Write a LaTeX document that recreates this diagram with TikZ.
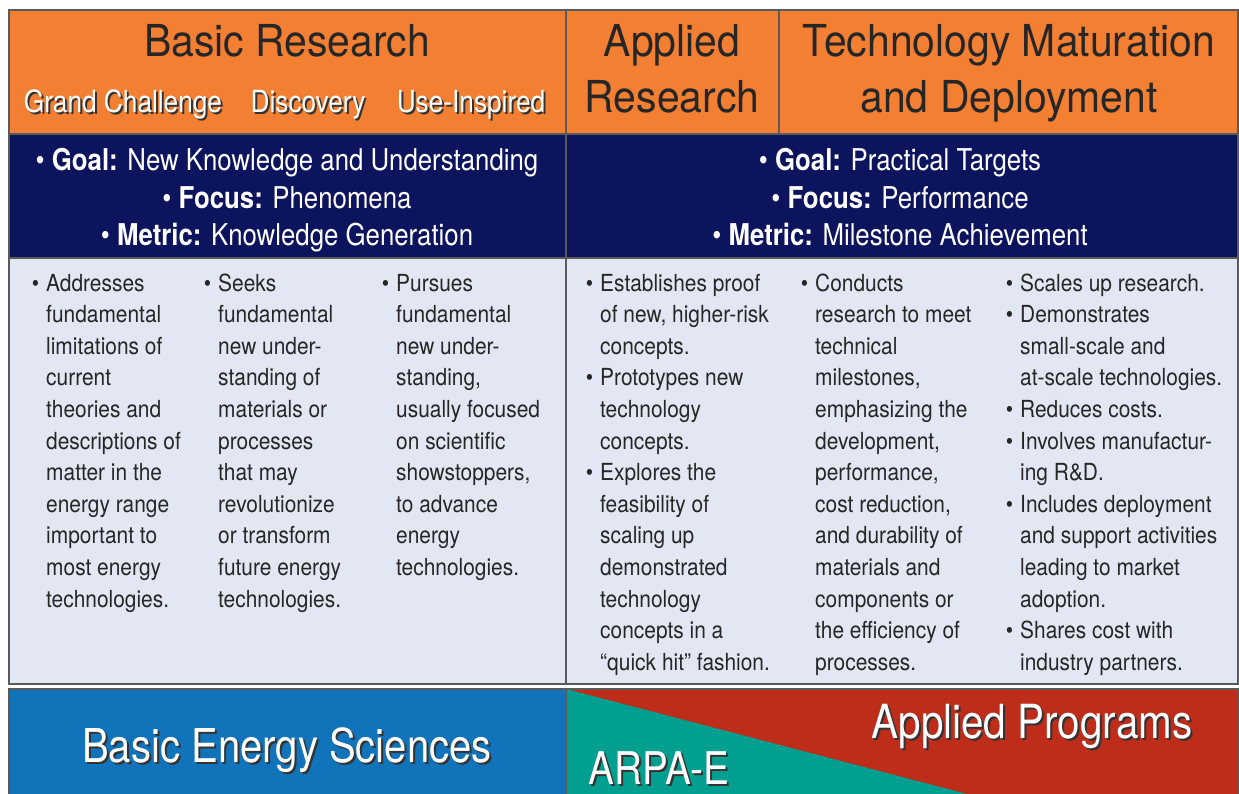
\documentclass[tikz,border=0pt]{standalone}
\usepackage{fontspec}
\setmainfont{TeX Gyre Heros}[FakeStretch=0.89]
\newfontfamily\goalfont{TeX Gyre Heros}[FakeStretch=0.86]
\newfontfamily\hdrfont{TeX Gyre Heros}[FakeStretch=0.93]
\usetikzlibrary{positioning}
\definecolor{hdrorange}{HTML}{F37F33}
\definecolor{goalnavy}{HTML}{0D145E}
\definecolor{bodyblue}{HTML}{E3E7F4}
\definecolor{besblue}{HTML}{1174BA}
\definecolor{arpateal}{HTML}{009F8F}
\definecolor{progred}{HTML}{BE2C1A}
\definecolor{rulegray}{HTML}{5A5A5A}
\definecolor{inkgray}{HTML}{262626}
\definecolor{shadowgray}{HTML}{333333}
\newcommand\dropshadow[1]{\rlap{\kern2pt\raisebox{-2pt}{\color{shadowgray}#1}}#1}
\newcommand\itm{\llap{\textbullet\hspace{7pt}}}

\begin{document}
\begin{tikzpicture}[x=1pt,y=-1pt,
    rule/.style={draw=rulegray,line width=1.2pt},
    hdr/.style={text=inkgray,font=\hdrfont\fontsize{44}{56}\selectfont,inner sep=0pt,align=center,anchor=base},
    sub/.style={text=white,font=\goalfont\fontsize{30.5}{36}\selectfont,inner sep=0pt,anchor=base},
    goal/.style={text=white,font=\goalfont\fontsize{30}{37.8}\selectfont,inner sep=0pt,align=center,anchor=base},
    item/.style={text=inkgray,font=\fontsize{23.5}{31.6}\selectfont,inner sep=0pt,align=left,anchor=base west},
    band/.style={text=white,inner sep=0pt,anchor=base}]
  \useasboundingbox (0,0) rectangle (1239,794);
  % table rows
  \fill[hdrorange] (9,10) rectangle (1238,134);
  \fill[goalnavy] (9,134) rectangle (1238,258);
  \fill[bodyblue] (9,258) rectangle (1238,684);
  \draw[rule] (9,10) rectangle (1238,684);
  \draw[rule] (9,134) -- (1238,134) (9,258) -- (1238,258);
  \draw[rule] (566,10) -- (566,684) (779,10) -- (779,134);
  % bottom band
  \fill[besblue] (9,689) rectangle (566,794);
  \fill[progred] (566,689) rectangle (1238,794);
  \fill[arpateal] (566,689) -- (967,794) -- (566,794) -- cycle;
  \draw[rule] (9,794) -- (9,689) -- (1238,689) -- (1238,794);
  \draw[rule] (566,689) -- (566,794);

  % headers (multi-line nodes sit on their last baseline)
  \node[hdr] (basic) at (287,57) {Basic Research};
  \node[sub] (grand) at (123,113) {\dropshadow{Grand Challenge}};
  \node[sub] (disc) at (308,113) {\dropshadow{Discovery}};
  \node[sub] (useinsp) at (471,113) {\dropshadow{Use-Inspired}};
  \node[hdr] (applied) at (672,113) {Applied\\Research};
  \node[hdr] (techmat) at (1009,113) {Technology Maturation\\and Deployment};

  % goals
  \node[goal] (goalL) at (287,246) {\textbullet\ \textbf{Goal:} New Knowledge and Understanding\\
    \textbullet\ \textbf{Focus:} Phenomena\\
    \textbullet\ \textbf{Metric:} Knowledge Generation};
  \node[goal] (goalR) at (900,246) {\textbullet\ \textbf{Goal:} Practical Targets\\
    \textbullet\ \textbf{Focus:} Performance\\
    \textbullet\ \textbf{Metric:} Milestone Achievement};

  % body columns
  \node[item] (grandtxt) at (46,607) {\itm Addresses\\fundamental\\limitations of\\current\\theories and\\
    descriptions of\\matter in the\\energy range\\important to\\most energy\\technologies.};
  \node[item] (disctxt) at (218,607) {\itm Seeks\\fundamental\\new under-\\standing of\\materials or\\
    processes\\that may\\revolutionize\\or transform\\future energy\\technologies.};
  \node[item] (usetxt) at (396,575.4) {\itm Pursues\\fundamental\\new under-\\standing,\\usually focused\\
    on scientific\\showstoppers,\\to advance\\energy\\technologies.};
  \node[item] (apptxt) at (600,670.2) {\itm Establishes proof\\of new, higher-risk\\concepts.\\
    \itm Prototypes new\\technology\\concepts.\\
    \itm Explores the\\feasibility of\\scaling up\\demonstrated\\technology\\concepts in a\\“quick hit” fashion.};
  \node[item] (condtxt) at (815,670.2) {\itm Conducts\\research to meet\\technical\\milestones,\\emphasizing the\\
    development,\\performance,\\cost reduction,\\and durability of\\materials and\\components or\\
    the efficiency of\\processes.};
  \node[item] (scaletxt) at (1020,670.2) {\itm Scales up research.\\
    \itm Demonstrates\\small-scale and\\at-scale technologies.\\
    \itm Reduces costs.\\
    \itm Involves manufactur-\\ing R\&D.\\
    \itm Includes deployment\\and support activities\\leading to market\\adoption.\\
    \itm Shares cost with\\industry partners.};

  % programs
  \node[band,font=\goalfont\fontsize{46.6}{56}\selectfont] (bes) at (287,762) {\dropshadow{Basic Energy Sciences}};
  \node[band,font=\goalfont\fontsize{47}{56}\selectfont] (progs) at (1032,738) {\dropshadow{Applied Programs}};
  \node[band,font=\goalfont\fontsize{45}{56}\selectfont] (arpae) at (659,784) {\dropshadow{ARPA-E}};
\end{tikzpicture}
\end{document}
